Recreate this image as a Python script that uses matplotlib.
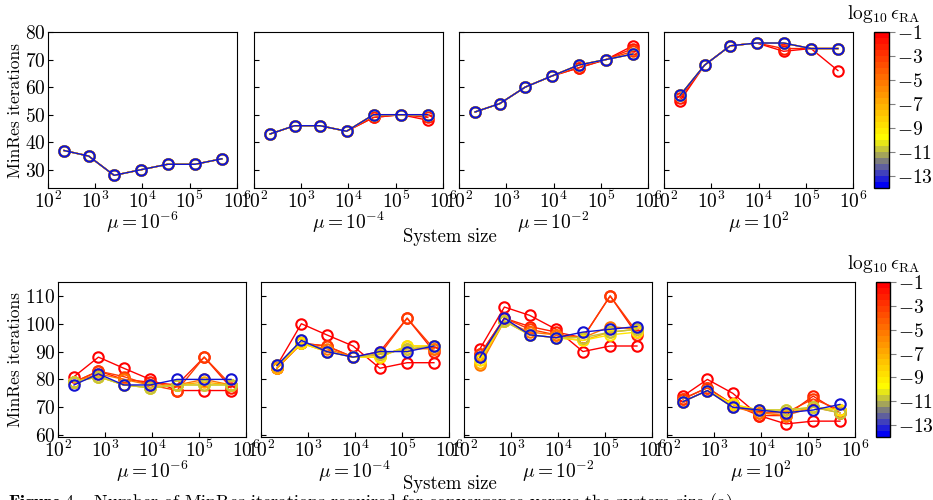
import matplotlib
matplotlib.use("Agg")
import matplotlib.pyplot as plt
from matplotlib.colors import LinearSegmentedColormap, Normalize
from matplotlib.cm import ScalarMappable

plt.rcParams["font.family"] = "serif"
plt.rcParams["font.serif"] = ["cmr10", "DejaVu Serif"]
plt.rcParams["mathtext.fontset"] = "cm"
plt.rcParams["axes.formatter.use_mathtext"] = True
plt.rcParams["axes.unicode_minus"] = True

# system sizes
sizes = [219, 724, 2512, 9120, 33900, 128800, 478600]
# log10 eps_RA of the drawn curves, red first, blue last
log_eps = [-1, -2, -3, -5, -7, -9, -11, -13]
mu_labels = [r"$\mu = 10^{-6}$", r"$\mu = 10^{-4}$", r"$\mu = 10^{-2}$", r"$\mu = 10^{2}$"]

# top row: one row per log_eps entry
top_mu6 = [
    [37, 35, 28, 30, 32, 32, 34],
    [37, 35, 28, 30, 32, 32, 34],
    [37, 35, 28, 30, 32, 32, 34],
    [37, 35, 28, 30, 32, 32, 34],
    [37, 35, 28, 30, 32, 32, 34],
    [37, 35, 28, 30, 32, 32, 34],
    [37, 35, 28, 30, 32, 32, 34],
    [37, 35, 28, 30, 32, 32, 34],
]
top_mu4 = [
    [43, 46, 46, 44, 49, 50, 48],
    [43, 46, 46, 44, 49, 50, 49],
    [43, 46, 46, 44, 50, 50, 50],
    [43, 46, 46, 44, 50, 50, 50],
    [43, 46, 46, 44, 50, 50, 50],
    [43, 46, 46, 44, 50, 50, 50],
    [43, 46, 46, 44, 50, 50, 50],
    [43, 46, 46, 44, 50, 50, 50],
]
top_mu2 = [
    [51, 54, 60, 64, 67, 70, 75],
    [51, 54, 60, 64, 67, 70, 74],
    [51, 54, 60, 64, 68, 70, 73],
    [51, 54, 60, 64, 68, 70, 72],
    [51, 54, 60, 64, 68, 70, 72],
    [51, 54, 60, 64, 68, 70, 72],
    [51, 54, 60, 64, 68, 70, 72],
    [51, 54, 60, 64, 68, 70, 72],
]
top_mup2 = [
    [55, 68, 75, 76, 73, 74, 66],
    [56, 68, 75, 76, 74, 74, 74],
    [57, 68, 75, 76, 76, 74, 74],
    [57, 68, 75, 76, 76, 74, 74],
    [57, 68, 75, 76, 76, 74, 74],
    [57, 68, 75, 76, 76, 74, 74],
    [57, 68, 75, 76, 76, 74, 74],
    [57, 68, 75, 76, 76, 74, 74],
]

# bottom row
bot_mu6 = [
    [81, 88, 84, 80, 76, 76, 76],
    [79, 83, 80, 79, 78, 88, 77],
    [79, 83, 81, 78, 76, 88, 78],
    [79, 82, 80, 78, 78, 80, 78],
    [79, 81, 78, 77, 78, 79, 78],
    [79, 81, 78, 77, 78, 78, 78],
    [79, 81, 78, 77, 78, 78, 78],
    [78, 82, 78, 78, 80, 80, 80],
]
bot_mu4 = [
    [85, 100, 96, 92, 84, 86, 86],
    [84, 93, 92, 88, 90, 102, 90],
    [84, 93, 92, 88, 89, 102, 91],
    [84, 93, 91, 88, 89, 91, 91],
    [84, 93, 90, 88, 88, 92, 92],
    [85, 93, 90, 88, 88, 92, 92],
    [85, 94, 90, 88, 89, 91, 92],
    [85, 94, 90, 88, 90, 90, 92],
]
bot_mu2 = [
    [91, 106, 103, 98, 90, 92, 92],
    [89, 102, 99, 97, 95, 110, 96],
    [89, 102, 98, 96, 95, 110, 97],
    [85, 101, 97, 96, 95, 99, 98],
    [86, 101, 96, 95, 94, 97, 98],
    [87, 101, 96, 95, 94, 96, 97],
    [88, 101, 96, 95, 95, 97, 98],
    [88, 102, 96, 95, 97, 98, 99],
]
bot_mup2 = [
    [74, 80, 75, 67, 64, 65, 65],
    [73, 77, 71, 67, 67, 74, 68],
    [73, 77, 71, 68, 68, 73, 69],
    [72, 76, 70, 68, 67, 70, 68],
    [72, 76, 71, 69, 68, 70, 69],
    [72, 76, 71, 69, 69, 70, 69],
    [72, 76, 70, 69, 69, 70, 68],
    [72, 76, 70, 69, 68, 69, 71],
]

# blue -> slate -> olive -> yellow -> orange -> red over log10 eps in [-14, -1]
line_anchors = [
    (0.0, (0.0, 0.0, 0.95)),
    (0.085, (0.08, 0.08, 0.80)),
    (0.14, (0.45, 0.45, 0.55)),
    (0.21, (0.70, 0.70, 0.30)),
    (0.31, (1.0, 1.0, 0.0)),
    (0.54, (1.0, 0.68, 0.0)),
    (0.77, (1.0, 0.35, 0.0)),
    (1.0, (1.0, 0.0, 0.0)),
]
bar_anchors = [
    (0.0, (0.0, 0.0, 0.95)),
    (0.05, (0.15, 0.15, 0.82)),
    (0.10, (0.32, 0.32, 0.68)),
    (0.15, (0.45, 0.45, 0.52)),
    (0.21, (0.68, 0.68, 0.32)),
    (0.31, (1.0, 1.0, 0.0)),
    (0.54, (1.0, 0.68, 0.0)),
    (0.77, (1.0, 0.35, 0.0)),
    (1.0, (1.0, 0.0, 0.0)),
]
cmap_lines = LinearSegmentedColormap.from_list("ra", line_anchors, N=256)
cmap_bar = LinearSegmentedColormap.from_list("ra_d", bar_anchors, N=26)
norm = Normalize(vmin=-14, vmax=-1)

fig = plt.figure(figsize=(9.33, 5.0), dpi=100)

rows = [
    dict(data=[top_mu6, top_mu4, top_mu2, top_mup2],
         lefts=[0.0514, 0.2722, 0.4920, 0.7117], width=0.2026,
         bottom=0.624, height=0.312, ylim=(23.4, 80), yticks=[30, 40, 50, 60, 70, 80],
         cbar=[0.9368, 0.624, 0.0161, 0.312], sys_y=0.526, cb_label_y=0.972),
    dict(data=[bot_mu6, bot_mu4, bot_mu2, bot_mup2],
         lefts=[0.0622, 0.2797, 0.4973, 0.7149], width=0.2015,
         bottom=0.126, height=0.310, ylim=(59.3, 115), yticks=[60, 70, 80, 90, 100, 110],
         cbar=[0.9390, 0.126, 0.0150, 0.310], sys_y=0.032, cb_label_y=0.472),
]

for row in rows:
    for j, (panel, left) in enumerate(zip(row["data"], row["lefts"])):
        ax = fig.add_axes([left, row["bottom"], row["width"], row["height"]])
        for eps, ys in zip(log_eps, panel):
            ax.plot(sizes, ys, color=cmap_lines(norm(eps)), linewidth=1.0,
                    marker="o", markersize=7.5, markerfacecolor="none",
                    markeredgewidth=1.5)
        ax.set_xscale("log")
        ax.set_xlim(1e2, 1e6)
        ax.set_ylim(*row["ylim"])
        ax.set_yticks(row["yticks"])
        ax.set_xticks([1e2, 1e3, 1e4, 1e5, 1e6])
        ax.tick_params(direction="in", labelsize=14, pad=2)
        ax.tick_params(which="minor", direction="in")
        ax.set_xlabel(mu_labels[j], fontsize=14, labelpad=-2)
        if j == 0:
            ax.set_ylabel("MinRes iterations", fontsize=12.5, labelpad=1)
        else:
            ax.set_yticklabels([])

    cax = fig.add_axes(row["cbar"])
    sm = ScalarMappable(norm=norm, cmap=cmap_bar)
    cb = fig.colorbar(sm, cax=cax, ticks=[-1, -3, -5, -7, -9, -11, -13])
    cb.ax.tick_params(labelsize=14, length=4, color="0.5", pad=2)
    cb.outline.set_linewidth(1.0)
    fig.text(0.947, row["cb_label_y"], r"$\log_{10}\epsilon_{\rm RA}$",
             fontsize=14, ha="center", va="center")
    fig.text(0.482, row["sys_y"], "System size", fontsize=13.5, ha="center", va="center")

fig.text(0.009, 0.018,
         r"$\mathbf{Figure\ 4.}$  Number of MinRes iterations required for convergence versus the system size (a)",
         fontsize=13, ha="left", va="top")

fig.savefig("out.png", dpi=100)
